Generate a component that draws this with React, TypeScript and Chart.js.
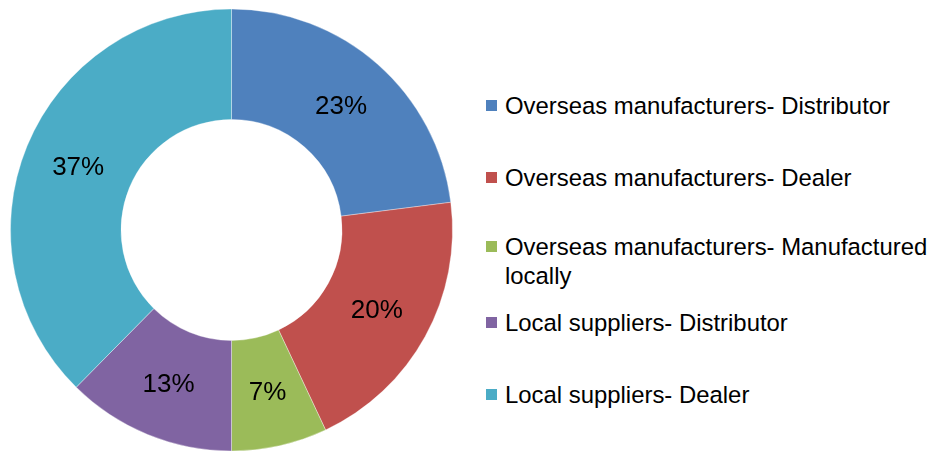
import React, { useEffect, useRef } from "react";
import { Chart, registerables } from "chart.js";

Chart.register(...registerables);

const categories = [
  "Overseas manufacturers- Distributor",
  "Overseas manufacturers- Dealer",
  "Overseas manufacturers- Manufactured locally",
  "Local suppliers- Distributor",
  "Local suppliers- Dealer",
];
// slice sizes
const shares = [23, 20, 7, 12.4, 37.6];
// percentage labels as printed on the slices
const shareLabels = ["23%", "20%", "7%", "13%", "37%"];
const sliceColors = ["#4F81BD", "#C0504D", "#9BBB59", "#8064A2", "#4BACC6"];

// layout (not data)
const legendBaselines = [114, 186, 255, 331, 403];
const FONT = "'Liberation Sans', Arial, sans-serif";

const labelPlugin = {
  id: "sliceLabels",
  afterDatasetsDraw(chart: any) {
    const ctx = chart.ctx;
    const meta = chart.getDatasetMeta(0);
    ctx.save();
    ctx.font = `26px ${FONT}`;
    ctx.fillStyle = "#000";
    ctx.textAlign = "center";
    ctx.textBaseline = "middle";
    meta.data.forEach((arc: any, i: number) => {
      const p = arc.tooltipPosition();
      ctx.fillText(shareLabels[i], p.x, p.y + 1);
    });
    ctx.restore();
  },
};

export default function App() {
  const ref = useRef<HTMLCanvasElement | null>(null);
  useEffect(() => {
    if (!ref.current) return;
    const chart = new Chart(ref.current, {
      type: "doughnut",
      data: {
        labels: categories,
        datasets: [
          {
            data: shares,
            backgroundColor: sliceColors,
            borderWidth: 1,
            borderColor: "rgba(255,255,255,0.35)",
          },
        ],
      },
      options: {
        responsive: false,
        animation: false,
        cutout: "50%",
        layout: { padding: 8.5 },
        plugins: {
          legend: { display: false },
          tooltip: { enabled: false },
        },
      },
      plugins: [labelPlugin],
    });
    return () => chart.destroy();
  }, []);

  const fontSize = 23.9;
  const lineH = 29;
  const baselineOffset = (lineH - 1.117 * fontSize) / 2 + 0.905 * fontSize;

  return (
    <div
      style={{
        position: "fixed",
        left: 0,
        top: 0,
        width: 929,
        height: 451,
        overflow: "hidden",
        background: "#fff",
      }}
    >
      <canvas
        ref={ref}
        width={463}
        height={460}
        style={{ position: "absolute", left: 0, top: 0 }}
      />
      {categories.map((c, i) => (
        <div key={c}>
          <div
            style={{
              position: "absolute",
              left: 486,
              top: legendBaselines[i] - 14,
              width: 11,
              height: 11,
              background: sliceColors[i],
            }}
          />
          <div
            style={{
              position: "absolute",
              left: 505,
              top: legendBaselines[i] - baselineOffset,
              width: 424,
              fontFamily: FONT,
              fontSize,
              lineHeight: `${lineH}px`,
              color: "#000",
              whiteSpace: "normal",
            }}
          >
            {c}
          </div>
        </div>
      ))}
    </div>
  );
}
